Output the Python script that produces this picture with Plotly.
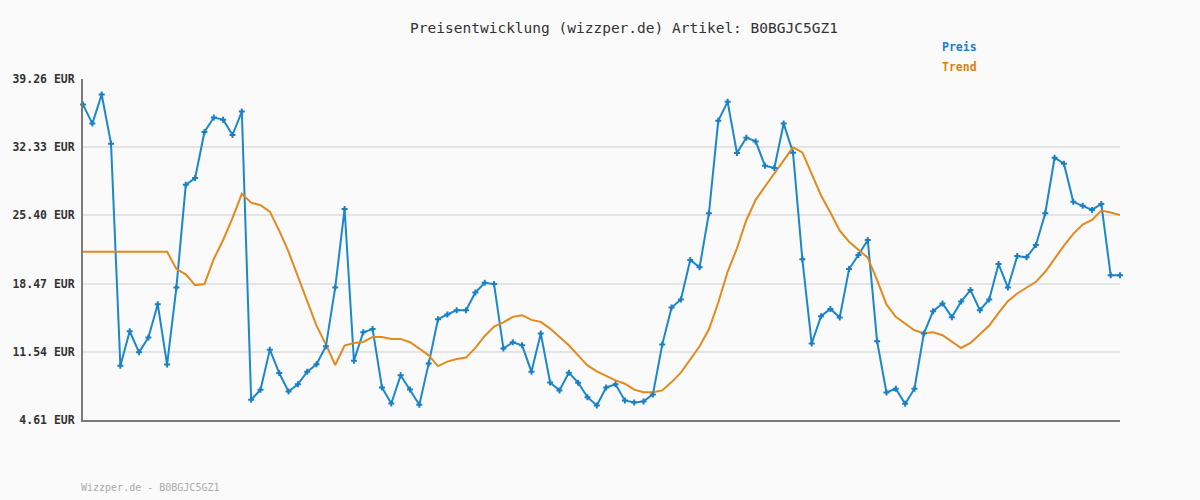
import plotly.graph_objects as go

preis = [36.66, 34.73, 37.68, 32.69, 10.13, 13.63, 11.49, 12.99, 16.38, 10.24,
         18.08, 28.51, 29.19, 33.88, 35.34, 35.13, 33.57, 35.95, 6.67, 7.69,
         11.76, 9.38, 7.51, 8.23, 9.52, 10.27, 12.10, 18.08, 26.06, 10.64,
         13.53, 13.86, 7.92, 6.29, 9.15, 7.72, 6.16, 10.34, 14.85, 15.33,
         15.77, 15.77, 17.57, 18.55, 18.42, 11.87, 12.51, 12.20, 9.52, 13.40,
         8.43, 7.62, 9.42, 8.40, 6.93, 6.09, 7.92, 8.23, 6.60, 6.39,
         6.50, 7.21, 12.27, 16.04, 16.86, 20.87, 20.12, 25.62, 35.03, 36.94,
         31.74, 33.30, 32.92, 30.45, 30.21, 34.73, 31.77, 20.94, 12.38, 15.16,
         15.90, 15.03, 19.95, 21.37, 22.90, 12.61, 7.41, 7.79, 6.26, 7.79,
         13.40, 15.67, 16.45, 15.06, 16.66, 17.81, 15.77, 16.86, 20.46, 18.08,
         21.27, 21.14, 22.39, 25.62, 31.26, 30.65, 26.78, 26.37, 25.96, 26.57,
         19.31, 19.31]

trend = [21.71, 21.71, 21.71, 21.71, 21.71, 21.71, 21.71, 21.71, 21.71, 21.71,
         19.95, 19.41, 18.32, 18.42, 20.97, 22.90, 25.12, 27.59, 26.70, 26.44,
         25.79, 23.85, 21.71, 19.16, 16.66, 14.17, 12.30, 10.20, 12.17, 12.44,
         12.54, 13.05, 13.05, 12.85, 12.85, 12.51, 11.87, 11.18, 10.09, 10.54,
         10.81, 10.95, 11.93, 13.15, 14.11, 14.52, 15.09, 15.26, 14.78, 14.58,
         13.90, 13.05, 12.20, 11.18, 10.16, 9.55, 9.07, 8.64, 8.30, 7.69,
         7.44, 7.44, 7.62, 8.46, 9.42, 10.74, 12.10, 13.83, 16.55, 19.67,
         22.06, 24.91, 26.98, 28.34, 29.66, 30.99, 32.31, 31.80, 29.70, 27.42,
         25.69, 23.85, 22.73, 21.88, 21.10, 18.83, 16.35, 15.09, 14.41, 13.73,
         13.43, 13.53, 13.22, 12.54, 11.93, 12.44, 13.32, 14.21, 15.49, 16.69,
         17.47, 18.08, 18.65, 19.67, 21.04, 22.32, 23.52, 24.46, 24.94, 25.89,
         25.69, 25.45]

tick_vals = [4.61, 11.54, 18.47, 25.40, 32.33, 39.26]
tick_text = ["4.61 EUR", "11.54 EUR", "18.47 EUR", "25.40 EUR", "32.33 EUR", "39.26 EUR"]

title_text = "Preisentwicklung (wizzper.de) Artikel: B0BGJC5GZ1"
footer_text = "Wizzper.de - B0BGJC5GZ1"

x = list(range(len(preis)))
mono = "DejaVu Sans Mono"

W, H = 1200, 500
l, r, t, b = 80, 80, 79, 80
pw, ph = W - l - r, H - t - b


def px(xp):
    return (xp - l) / pw


def py(yp):
    return (H - b - yp) / ph


fig = go.Figure()
fig.add_trace(go.Scatter(
    x=x, y=preis, mode="lines", name="Preis",
    line=dict(color="#1b87cc", width=2), cliponaxis=False, hoverinfo="skip"))
fig.add_trace(go.Scatter(
    x=x, y=trend, mode="lines", name="Trend",
    line=dict(color="#e3891e", width=2), cliponaxis=False))
fig.add_trace(go.Scatter(
    x=x, y=preis, mode="markers", name="Preis",
    marker=dict(symbol="cross", size=5, color="#1b7fc4"),
    cliponaxis=False))

fig.update_layout(
    width=W, height=H,
    paper_bgcolor="#fafafa", plot_bgcolor="#fafafa",
    margin=dict(l=l, r=r, t=t, b=b),
    showlegend=False,
    title=dict(text=title_text, x=0.52, xanchor="center", y=1 - 28 / H, yanchor="middle",
               font=dict(family=mono, size=14.5, color="#333333")),
    xaxis=dict(range=[0, len(preis) - 1], showgrid=False, zeroline=False,
               showticklabels=False, showline=True, linecolor="#7a7a7a", linewidth=2,
               ticks=""),
    yaxis=dict(range=[4.61, 39.26], tickvals=tick_vals, ticktext=["<b>%s</b>" % s for s in tick_text],
               showgrid=True, gridcolor="#e4e4e4", gridwidth=2, zeroline=False,
               showline=True, linecolor="#7a7a7a", linewidth=2, ticks="",
               tickfont=dict(family=mono, size=11.5, color="#333333"), ticklabelstandoff=4),
    annotations=[
        dict(text="<b>Preis</b>", x=px(939), y=py(47), xref="paper", yref="paper",
             showarrow=False, font=dict(family=mono, size=11.5, color="#1b7fc4"),
             xanchor="left", yanchor="middle"),
        dict(text="<b>Trend</b>", x=px(939), y=py(67), xref="paper", yref="paper",
             showarrow=False, font=dict(family=mono, size=11.5, color="#e07f0e"),
             xanchor="left", yanchor="middle"),
        dict(text=footer_text, x=px(76), y=py(487), xref="paper", yref="paper",
             showarrow=False, font=dict(family=mono, size=10, color="#aaaaaa"),
             xanchor="left", yanchor="middle"),
    ],
)

fig.write_html("out.html", config={"displayModeBar": False},
               post_script="document.body.style.margin='0';document.body.style.overflow='hidden';")
